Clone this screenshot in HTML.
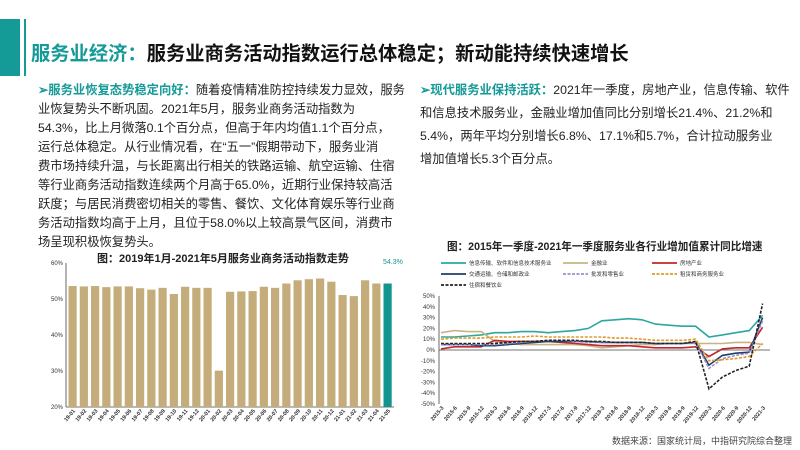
<!DOCTYPE html>
<html><head><meta charset="utf-8"><style>
body{margin:0;width:800px;height:450px;background:#fff;position:relative;overflow:hidden;font-family:"Liberation Sans","Noto Sans CJK SC",sans-serif;}
.t{position:absolute;white-space:nowrap;color:#222;font-size:12.3px;}
</style></head><body>
<div style="position:absolute;left:0;top:19px;width:20px;height:57px;background:#149a97"></div>
<div style="position:absolute;left:24px;top:19px;width:2px;height:57px;background:#149a97"></div>
<div class="t" style="left:31px;top:38px;font-size:19.3px;font-weight:bold;color:#111"><span style="color:#149a97">服务业经济：</span>服务业商务活动指数运行总体稳定；新动能持续快速增长</div>

<div class="t" style="left:38px;top:80px"><b style="color:#149a97">➢服务业恢复态势稳定向好：</b>随着疫情精准防控持续发力显效，服务</div>
<div class="t" style="left:38px;top:99px">业恢复势头不断巩固。2021年5月，服务业商务活动指数为</div>
<div class="t" style="left:38px;top:118px">54.3%，比上月微落0.1个百分点，但高于年内均值1.1个百分点，</div>
<div class="t" style="left:38px;top:137px">运行总体稳定。从行业情况看，在“五一”假期带动下，服务业消</div>
<div class="t" style="left:38px;top:156px">费市场持续升温，与长距离出行相关的铁路运输、航空运输、住宿</div>
<div class="t" style="left:38px;top:175px">等行业商务活动指数连续两个月高于65.0%，近期行业保持较高活</div>
<div class="t" style="left:38px;top:194px">跃度；与居民消费密切相关的零售、餐饮、文化体育娱乐等行业商</div>
<div class="t" style="left:38px;top:213px">务活动指数均高于上月，且位于58.0%以上较高景气区间，消费市</div>
<div class="t" style="left:38px;top:232px">场呈现积极恢复势头。</div>
<div class="t" style="left:97px;top:250px;font-size:11px;font-weight:bold">图：2019年1月-2021年5月服务业商务活动指数走势</div>

<div class="t" style="left:420px;top:80px"><b style="color:#149a97">➢现代服务业保持活跃：</b>2021年一季度，房地产业，信息传输、软件</div>
<div class="t" style="left:420px;top:103px">和信息技术服务业，金融业增加值同比分别增长21.4%、21.2%和</div>
<div class="t" style="left:420px;top:126px">5.4%，两年平均分别增长6.8%、17.1%和5.7%，合计拉动服务业</div>
<div class="t" style="left:420px;top:149px">增加值增长5.3个百分点。</div>
<div class="t" style="left:447px;top:239px;font-size:10.6px;font-weight:bold">图：2015年一季度-2021年一季度服务业各行业增加值累计同比增速</div>
<div class="t" style="left:612px;top:434px;font-size:9px;color:#444">数据来源：国家统计局，中指研究院综合整理</div>

<svg width="800" height="450" style="position:absolute;left:0;top:0" font-family="Liberation Sans" font-size="6" fill="#333">
<g id="bars"></g>
<g id="lines"></g>
</svg>
<script>
var NS="http://www.w3.org/2000/svg";
function el(p,n,a,txt){var e=document.createElementNS(NS,n);for(var k in a)e.setAttribute(k,a[k]);if(txt!=null)e.textContent=txt;p.appendChild(e);return e;}
var g=document.getElementById('bars');
var v=[53.6,53.5,53.6,53.3,53.5,53.5,53.0,52.6,53.1,51.4,53.4,53.1,53.1,30.1,52.0,52.1,52.2,53.4,53.1,54.3,55.2,55.5,55.7,54.8,51.1,50.8,55.2,54.3,54.3];
var lab=["19-01","19-02","19-03","19-04","19-05","19-06","19-07","19-08","19-09","19-10","19-11","19-12","20-01","20-02","20-03","20-04","20-05","20-06","20-07","20-08","20-09","20-10","20-11","20-12","21-01","21-02","21-03","21-04","21-05"];
function Y(p){return 407-(p-20)*3.6;}
[20,30,40,50,60].forEach(function(p){el(g,'text',{x:63,y:Y(p)+2,'text-anchor':'end'},p+'%');});
el(g,'line',{x1:66,y1:263,x2:66,y2:407,stroke:'#444','stroke-width':0.8});
el(g,'line',{x1:66,y1:407,x2:394,y2:407,stroke:'#444','stroke-width':0.8});
var pitch=11.25;
v.forEach(function(d,i){var x=68.5+i*pitch;el(g,'rect',{x:x,y:Y(d),width:8.2,height:407-Y(d),fill:i==28?'#14948f':'#c4ad7a'});
var cx=x+4;el(g,'text',{x:cx+3,y:411,'text-anchor':'end',transform:'rotate(-50 '+(cx+3)+' 411)','font-size':'5.5','font-weight':'bold'},lab[i]);});
el(g,'text',{x:383,y:264,fill:'#14948f','font-size':'7'},'54.3%');
var L=document.getElementById('lines');
function RY(p){return 350-p*1.08;}
for(var p=-50;p<=50;p+=10)el(L,'text',{x:435,y:RY(p)+2,'text-anchor':'end'},p+'%');
el(L,'line',{x1:439,y1:296,x2:439,y2:404,stroke:'#444','stroke-width':0.8});
el(L,'line',{x1:439,y1:350,x2:770,y2:350,stroke:'#444','stroke-width':0.8});
var q=["15-3","15-6","15-9","15-12","16-3","16-6","16-9","16-12","17-3","17-6","17-9","17-12","18-3","18-6","18-9","18-12","19-3","19-6","19-9","19-12","20-3","20-6","20-9","20-12","21-3"];
function X(i){return 441+i*13.4;}
q.forEach(function(s,i){var x=X(i);el(L,'text',{x:x+3,y:408,'text-anchor':'end',transform:'rotate(-50 '+(x+3)+' 408)','font-size':'5.5','font-weight':'bold'},'20'+s);});
var S=[
['#2aa8a0',0,[12,12,13,14,16,16,17,17,16,17,18,20,27,28,29,28,24,23,22,22,12,14,16,18,32]],
['#c8b482',0,[16,18,17,17,8,6,5,5,5,5,5,4,2,3,4,5,5,6,6,6,6,6,7,7,5]],
['#c0282d',0,[1,3,3,3,9,8,8,8,8,7,6,5,4,4,4,3,2,2,2,3,-6,1,2,2,21]],
['#1f3f66',0,[5,5,5,4,4,5,6,7,8,8,8,8,7,7,7,7,6,6,6,7,-14,-5,-3,-2,30]],
['#9b8fcf','3,1.5',[5,5,5,5,5,6,7,8,9,9,8,7,7,7,7,7,6,6,6,7,-17,-8,-5,-3,27]],
['#e39a2a','3,1.5',[10,11,11,11,12,12,12,13,12,12,12,12,12,11,11,10,9,9,9,10,-10,-9,-8,-6,6]],
['#222','3,1.5',[6,6,6,6,6,7,8,8,9,9,9,8,8,7,7,7,6,6,6,8,-36,-25,-19,-15,43]]];
S.forEach(function(s){var d='';s[2].forEach(function(v,i){d+=(i?'L':'M')+X(i).toFixed(1)+','+RY(v).toFixed(1);});
var a={d:d,fill:'none',stroke:s[0],'stroke-width':1.6};if(s[1])a['stroke-dasharray']=s[1];el(L,'path',a);});
var lg=[[441,263,0,'信息传输、软件和信息技术服务业'],[563,263,1,'金融业'],[652,263,2,'房地产业'],[441,274,3,'交通运输、仓储和邮政业'],[563,274,4,'批发和零售业'],[652,274,5,'租赁和商务服务业'],[441,285,6,'住宿和餐饮业']];
lg.forEach(function(l){var s=S[l[2]];var a={x1:l[0],y1:l[1],x2:l[0]+25,y2:l[1],stroke:s[0],'stroke-width':1.8};if(s[1])a['stroke-dasharray']=s[1];el(L,'line',a);el(L,'text',{x:l[0]+28,y:l[1]+2,'font-size':'5.5'},l[3]);});
</script>
</body></html>
